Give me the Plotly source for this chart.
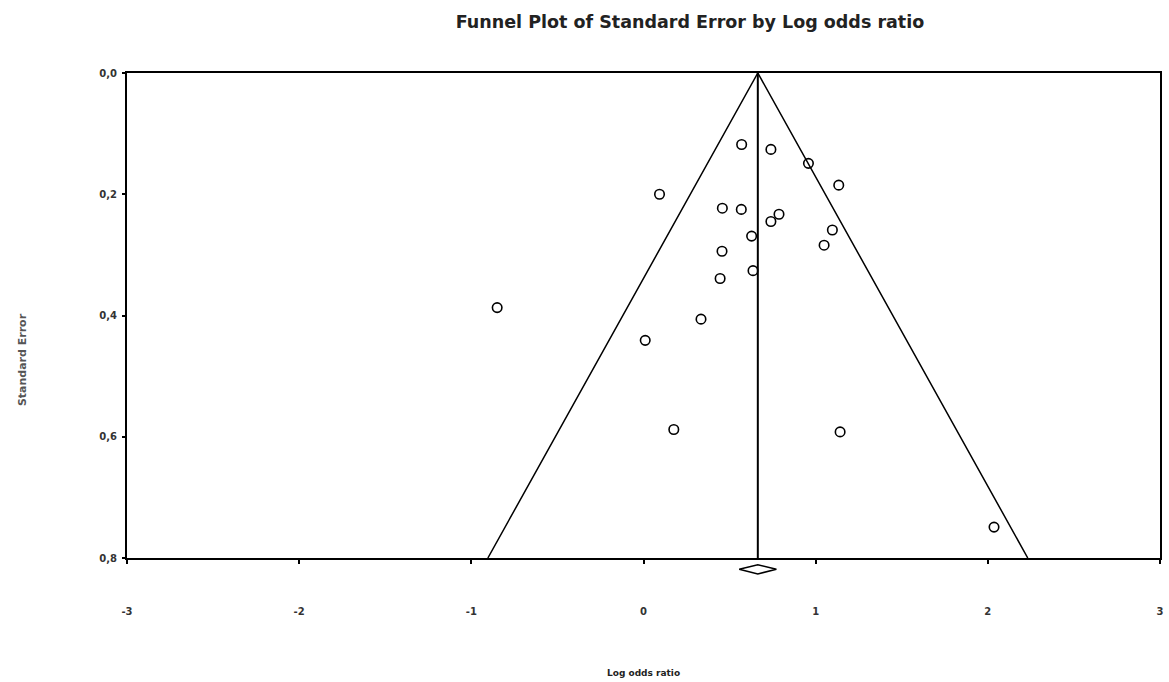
import plotly.graph_objects as go

# Data
log_odds = [0.570, 0.740, 0.958, 1.134, 0.093, 0.458, 0.568, 0.787, 0.740, 1.097,
            0.628, 1.049, 0.456, 0.636, 0.445, -0.850, 0.334, 0.010, 0.176, 1.142, 2.036]
std_err = [0.118, 0.126, 0.149, 0.185, 0.200, 0.223, 0.225, 0.233, 0.245, 0.259,
           0.269, 0.284, 0.294, 0.326, 0.339, 0.387, 0.406, 0.441, 0.588, 0.592, 0.749]
pooled = 0.664
pooled_ci = [0.556, 0.772]
se_max = 0.8
z = 1.96
x_ticks = [-3, -2, -1, 0, 1, 2, 3]
y_ticks = [0.0, 0.2, 0.4, 0.6, 0.8]

fig = go.Figure()

# funnel
fig.add_trace(go.Scatter(
    x=[pooled - z * se_max, pooled, pooled + z * se_max],
    y=[se_max, 0, se_max], mode="lines",
    line=dict(color="black", width=1.5), hoverinfo="skip", showlegend=False))
# vertical pooled line
fig.add_trace(go.Scatter(
    x=[pooled, pooled], y=[0, se_max], mode="lines",
    line=dict(color="black", width=2), hoverinfo="skip", showlegend=False))
# studies
fig.add_trace(go.Scatter(
    x=log_odds, y=std_err, mode="markers",
    marker=dict(symbol="circle-open", size=9.5, color="black", line=dict(width=1.6)),
    showlegend=False))

# pooled-estimate diamond below the axis (x in data units, y in paper units)
yc = -0.0233
dy = 0.0095
diamond_path = "M {a},{yc} L {m},{lo} L {b},{yc} L {m},{hi} Z".format(
    a=pooled_ci[0], b=pooled_ci[1], m=pooled, yc=yc, lo=yc - dy, hi=yc + dy)

tick_font = dict(family="DejaVu Sans", size=10, color="#333333")

fig.update_layout(
    width=1169, height=682,
    margin=dict(l=127, r=5, t=73, b=124),
    plot_bgcolor="white", paper_bgcolor="white",
    title=dict(text="<b>Funnel Plot of Standard Error by Log odds ratio</b>",
               x=690 / 1169, xanchor="center", y=1 - 22 / 682, yanchor="middle",
               font=dict(family="DejaVu Sans", size=17.5, color="#222222")),
    xaxis=dict(range=[-3, 3], tickvals=x_ticks,
               ticktext=["<b>%d</b>" % v for v in x_ticks],
               showgrid=False, zeroline=False, showline=True, linecolor="black",
               linewidth=2, mirror=True, ticks="outside", ticklen=4, tickwidth=2,
               tickcolor="black", ticklabelstandoff=39,
               tickfont=tick_font),
    yaxis=dict(range=[se_max, 0], tickvals=y_ticks,
               ticktext=["<b>%s</b>" % ("%.1f" % v).replace(".", ",") for v in y_ticks],
               showgrid=False, zeroline=False, showline=True, linecolor="black",
               linewidth=2, mirror=True, ticks="outside", ticklen=3, tickwidth=2,
               tickcolor="black", ticklabelstandoff=3,
               tickfont=tick_font),
    shapes=[dict(type="path", path=diamond_path, xref="x", yref="paper",
                 line=dict(color="black", width=1.5), fillcolor="white")],
    annotations=[
        dict(text="<b>Log odds ratio</b>", xref="paper", yref="paper", x=0.5, y=0,
             xanchor="center", yanchor="middle", yshift=-115, showarrow=False,
             font=dict(family="DejaVu Sans", size=9, color="#222222")),
        dict(text="<b>Standard Error</b>", xref="paper", yref="paper", x=0, y=0.408,
             xanchor="center", yanchor="middle", xshift=-105, textangle=-90,
             showarrow=False,
             font=dict(family="DejaVu Sans", size=11, color="#555555")),
    ],
)

fig.write_html("out.html")
